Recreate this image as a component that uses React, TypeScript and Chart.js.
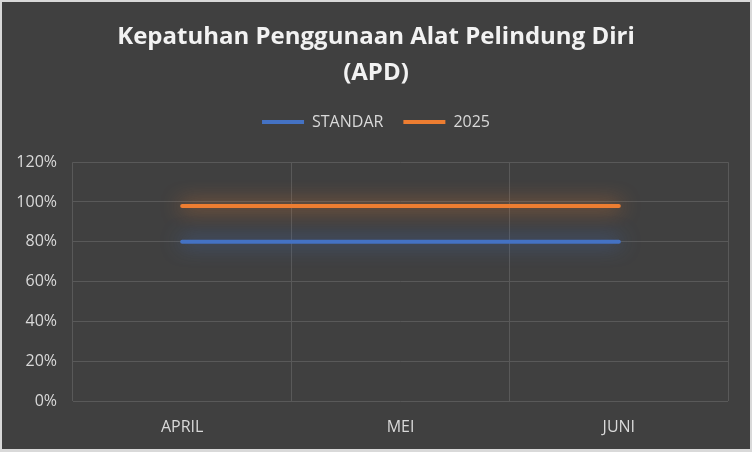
import { Chart, registerables } from 'chart.js'
import type { Plugin } from 'chart.js'
import { useEffect, useRef } from 'react'

Chart.register(...registerables)

const months = ['APRIL', 'MEI', 'JUNI']
const standar = [80, 80, 80]
const year2025 = [98, 98, 98]

const FONT = '"Open Sans", "Noto Sans", sans-serif'

// soft glow under each line, like the office chart effect
const glowPlugin: Plugin<'line'> = {
  id: 'glow',
  beforeDatasetDraw(chart, args) {
    const ds = chart.data.datasets[args.index] as any
    chart.ctx.save()
    chart.ctx.shadowColor = ds.glowColor
    chart.ctx.shadowBlur = 20
  },
  afterDatasetDraw(chart) {
    chart.ctx.restore()
  },
}

export default function App() {
  const canvasRef = useRef<HTMLCanvasElement>(null)
  const chartRef = useRef<Chart | null>(null)

  useEffect(() => {
    document.body.style.margin = '0'
    if (!canvasRef.current) return
    chartRef.current?.destroy()
    chartRef.current = new Chart(canvasRef.current, {
      type: 'line',
      data: {
        labels: months,
        datasets: [
          {
            label: 'STANDAR',
            data: standar,
            borderColor: '#4472C4',
            backgroundColor: '#4472C4',
            borderWidth: 4,
            borderCapStyle: 'round',
            pointRadius: 0,
            glowColor: 'rgba(68,114,196,1)',
          } as any,
          {
            label: '2025',
            data: year2025,
            borderColor: '#ED7D31',
            backgroundColor: '#ED7D31',
            borderWidth: 4,
            borderCapStyle: 'round',
            pointRadius: 0,
            glowColor: 'rgba(237,125,49,1)',
          } as any,
        ],
      },
      options: {
        responsive: false,
        animation: false,
        layout: { padding: { left: 0, right: 0, top: 17, bottom: 0 } },
        plugins: {
          title: {
            display: true,
            text: ['Kepatuhan Penggunaan Alat Pelindung Diri', '(APD)'],
            color: '#f2f2f2',
            font: { family: FONT, size: 24, weight: 'bold', lineHeight: 1.5 },
            padding: { top: 0, bottom: 3 },
          },
          // empty spacer placed under the legend
          subtitle: {
            display: true,
            text: '',
            position: 'top',
            weight: 500,
            font: { size: 1 },
            padding: { top: 0, bottom: 21 },
          },
          legend: {
            labels: {
              color: '#d9d9d9',
              font: { family: FONT, size: 16 },
              usePointStyle: true,
              pointStyle: 'line',
              pointStyleWidth: 42,
              padding: 20,
            },
          },
          tooltip: { enabled: false },
        },
        scales: {
          x: {
            offset: true,
            grid: { color: '#595959', offset: true, drawTicks: false },
            border: { display: false },
            ticks: { color: '#d9d9d9', font: { family: FONT, size: 16 }, padding: 17 },
            afterFit: (scale) => {
              scale.height = 48
            },
          },
          y: {
            min: 0,
            max: 120,
            ticks: {
              stepSize: 20,
              color: '#d9d9d9',
              font: { family: FONT, size: 16 },
              padding: 16,
              callback: (v) => `${v}%`,
            },
            grid: { color: '#595959', drawTicks: false },
            border: { display: false },
            afterFit: (scale) => {
              scale.width = 71
            },
          },
          // invisible right margin so title and legend stay centred on the canvas
          y1: {
            position: 'right',
            min: 0,
            max: 120,
            grid: { display: false },
            border: { display: false },
            ticks: { display: false },
            afterFit: (scale) => {
              scale.width = 22
            },
          },
        },
      },
      plugins: [glowPlugin],
    })
    return () => chartRef.current?.destroy()
  }, [])

  return (
    <div
      style={{
        width: 752,
        height: 452,
        boxSizing: 'border-box',
        borderStyle: 'solid',
        borderColor: '#d9d9d9',
        borderWidth: '2px 2px 3px 2px',
        background: '#404040',
      }}
    >
      <canvas ref={canvasRef} width={748} height={447} style={{ display: 'block' }} />
    </div>
  )
}
